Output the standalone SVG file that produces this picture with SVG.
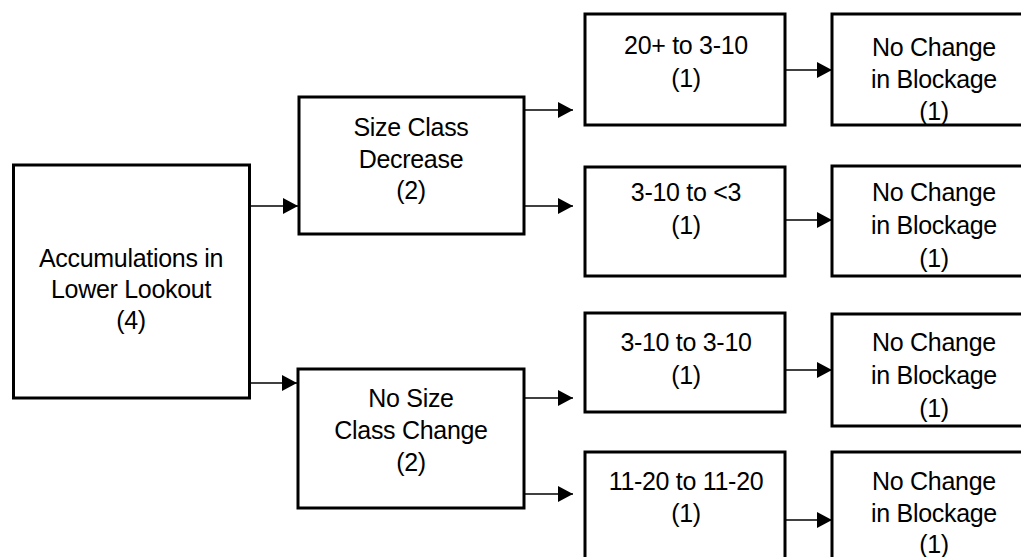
<svg xmlns="http://www.w3.org/2000/svg" width="1021" height="557" viewBox="0 0 1021 557">
<style>
.box{fill:#fff;stroke:#000;stroke-width:3}
.lbl{font-family:"Liberation Sans",Arial,sans-serif;font-size:25px;fill:#000;text-anchor:middle;letter-spacing:-0.3px}
.con{stroke:#000;stroke-width:1.5;fill:none;marker-end:url(#ah)}
</style>
<defs>
<marker id="ah" markerUnits="userSpaceOnUse" markerWidth="15" markerHeight="16" refX="15" refY="8" orient="auto">
<path d="M0,0 L15,8 L0,16 Z" fill="#000"/>
</marker>
</defs>
<rect width="1021" height="557" fill="#fff"/>
<g id="connectors">
<line class="con" x1="249" y1="206" x2="298" y2="206"/>
<line class="con" x1="249" y1="383" x2="297" y2="383"/>
<line class="con" x1="524" y1="110" x2="573" y2="110"/>
<line class="con" x1="524" y1="206" x2="573" y2="206"/>
<line class="con" x1="524" y1="398" x2="573" y2="398"/>
<line class="con" x1="524" y1="494" x2="573" y2="494"/>
<line class="con" x1="785" y1="70" x2="832" y2="70"/>
<line class="con" x1="785" y1="220" x2="832" y2="220"/>
<line class="con" x1="785" y1="370" x2="832" y2="370"/>
<line class="con" x1="785" y1="520" x2="832" y2="520"/>
</g>
<g id="n-accum">
<rect class="box" x="13.5" y="165" width="236" height="233"/>
<text class="lbl" x="131" y="267">Accumulations in</text>
<text class="lbl" x="131" y="298">Lower Lookout</text>
<text class="lbl" x="131" y="329">(4)</text>
</g>
<g id="n-decrease">
<rect class="box" x="299" y="97" width="225" height="137"/>
<text class="lbl" x="411" y="136">Size Class</text>
<text class="lbl" x="411" y="168">Decrease</text>
<text class="lbl" x="411" y="199">(2)</text>
</g>
<g id="n-nochange">
<rect class="box" x="298" y="369" width="226" height="139"/>
<text class="lbl" x="411" y="407">No Size</text>
<text class="lbl" x="411" y="439">Class Change</text>
<text class="lbl" x="411" y="471">(2)</text>
</g>
<g id="n-r1">
<rect class="box" x="585" y="14" width="200" height="111"/>
<text class="lbl" x="686" y="54">20+ to 3-10</text>
<text class="lbl" x="686" y="87">(1)</text>
</g>
<g id="n-r2">
<rect class="box" x="585" y="167" width="200" height="109"/>
<text class="lbl" x="686" y="201">3-10 to &lt;3</text>
<text class="lbl" x="686" y="234">(1)</text>
</g>
<g id="n-r3">
<rect class="box" x="585" y="313" width="200" height="99"/>
<text class="lbl" x="686" y="351">3-10 to 3-10</text>
<text class="lbl" x="686" y="384">(1)</text>
</g>
<g id="n-r4">
<rect class="box" x="585" y="452" width="200" height="130"/>
<text class="lbl" x="686" y="490">11-20 to 11-20</text>
<text class="lbl" x="686" y="522">(1)</text>
</g>
<g id="n-b1">
<rect class="box" x="832" y="14" width="210" height="111"/>
<text class="lbl" x="934" y="56">No Change</text>
<text class="lbl" x="934" y="88">in Blockage</text>
<text class="lbl" x="934" y="120">(1)</text>
</g>
<g id="n-b2">
<rect class="box" x="832" y="166" width="210" height="110"/>
<text class="lbl" x="934" y="201">No Change</text>
<text class="lbl" x="934" y="234">in Blockage</text>
<text class="lbl" x="934" y="267">(1)</text>
</g>
<g id="n-b3">
<rect class="box" x="832" y="314" width="210" height="112"/>
<text class="lbl" x="934" y="351">No Change</text>
<text class="lbl" x="934" y="384">in Blockage</text>
<text class="lbl" x="934" y="417">(1)</text>
</g>
<g id="n-b4">
<rect class="box" x="832" y="452" width="210" height="130"/>
<text class="lbl" x="934" y="490">No Change</text>
<text class="lbl" x="934" y="522">in Blockage</text>
<text class="lbl" x="934" y="553">(1)</text>
</g>
</svg>
